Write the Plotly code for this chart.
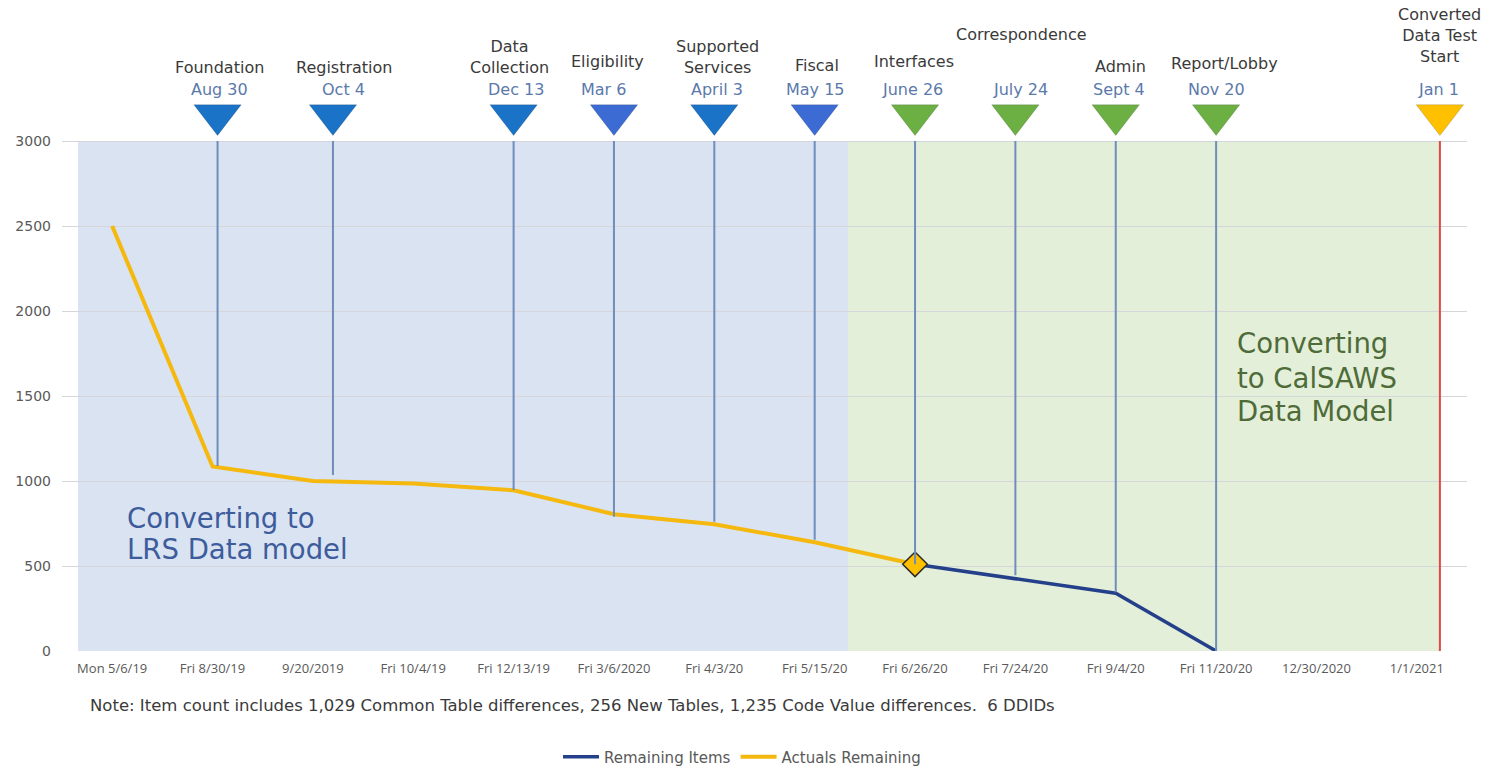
import plotly.graph_objects as go

categories = ["Mon 5/6/19", "Fri 8/30/19", "9/20/2019", "Fri 10/4/19", "Fri 12/13/19",
              "Fri 3/6/2020", "Fri 4/3/20", "Fri 5/15/20", "Fri 6/26/20", "Fri 7/24/20",
              "Fri 9/4/20", "Fri 11/20/20", "12/30/2020", "1/1/2021"]
actuals_remaining = [2500, 1085, 1000, 985, 945, 805, 745, 640, 510,
                     None, None, None, None, None]
remaining_items = [None, None, None, None, None, None, None, None,
                   510, 425, 340, 0, None, None]
y_ticks = [0, 500, 1000, 1500, 2000, 2500, 3000]

milestone_names = ["Foundation", "Registration", "Data<br>Collection", "Eligibility",
                   "Supported<br>Services", "Fiscal", "Interfaces", "Correspondence",
                   "Admin", "Report/Lobby", "Converted<br>Data Test<br>Start"]
milestone_dates = ["Aug 30", "Oct 4", "Dec 13", "Mar 6", "April 3", "May 15",
                   "June 26", "July 24", "Sept 4", "Nov 20", "Jan 1"]
milestone_pos = [1.05, 2.2, 4, 5, 6, 7, 8, 9, 10, 11, 13.23]
milestone_floor = [1088, 1035, 947, 790, 760, 655, 510, 445, 345, 0, 0]
milestone_colors = ["#1a73c6", "#1a73c6", "#1a73c6", "#3d6bd4", "#1a73c6", "#3d6bd4",
                    "#6cb043", "#6cb043", "#6cb043", "#6cb043", "#ffc000"]
name_dx = [2, 11, -4, -6, 3, 2, -1, 6, 5, 8, 0]
name_py = [70, 70, 70, 62, 70, 66, 62, 35, 67, 64, 57]
date_dx = [2, 11, 2, -10, 3, 1, -3, 5, 3, 0, -1]

lrs_lines = ["Converting to", "LRS Data model"]
calsaws_lines = ["Converting", "to CalSAWS", "Data Model"]
note_text = ("Note: Item count includes 1,029 Common Table differences, 256 New Tables, "
             "1,235 Code Value differences.  6 DDIDs")

x_idx = list(range(len(categories)))

# plot geometry in pixels: value 0 sits at row 651, value 3000 at row 141
FIG_W, FIG_H = 1491, 767
LEFT, RIGHT = 62, 1467
TOP_PLOT, BOTTOM = 8, 651
Y3000 = 141
def py_to_y(py):
    return (BOTTOM - py) / (BOTTOM - Y3000) * 3000
def px_to_x(px):
    return (px - LEFT) / (RIGHT - LEFT) * 14 - 0.5
def py_to_paper(py):
    return (BOTTOM - py) / (BOTTOM - TOP_PLOT)

Y_MAX = py_to_y(TOP_PLOT)

fig = go.Figure()

fig.add_trace(go.Scatter(
    x=x_idx, y=remaining_items, mode="lines", name="Remaining Items",
    line=dict(color="#25408a", width=3.5), connectgaps=False, cliponaxis=False))
fig.add_trace(go.Scatter(
    x=x_idx, y=actuals_remaining, mode="lines", name="Actuals Remaining",
    line=dict(color="#f5b80f", width=4), connectgaps=False))
fig.add_trace(go.Scatter(
    x=[x_idx[8]], y=[actuals_remaining[8]], mode="markers", showlegend=False,
    marker=dict(symbol="diamond", size=19, color="#ffc000",
                line=dict(color="#2a2a2a", width=1.5)), hoverinfo="skip"))
fig.add_trace(go.Scatter(
    x=milestone_pos, y=[py_to_y(115)] * len(milestone_pos), mode="markers",
    showlegend=False, hoverinfo="skip",
    marker=dict(symbol="triangle-down", size=41, color=milestone_colors,
                line=dict(color="rgba(0,0,0,0.15)", width=1))))

shapes = []
shapes.append(dict(type="rect", xref="x", yref="y", x0=px_to_x(78), x1=px_to_x(848),
                   y0=0, y1=3000, fillcolor="#dae3f2", line=dict(width=0), layer="below"))
shapes.append(dict(type="rect", xref="x", yref="y", x0=px_to_x(848), x1=milestone_pos[-1],
                   y0=0, y1=3000, fillcolor="#e3efd9", line=dict(width=0), layer="below"))
for i, (p, f) in enumerate(zip(milestone_pos, milestone_floor)):
    last = i == len(milestone_pos) - 1
    shapes.append(dict(type="line", xref="x", yref="y", x0=p, x1=p, y0=f, y1=3000,
                       line=dict(color="#e04848" if last else "#6f8dbd", width=2),
                       layer="above"))

FONT = "DejaVu Sans"
TICKFONT = "Open Sans"
LABEL_SIZE = 16
annotations = []
for i, p in enumerate(milestone_pos):
    bottom_px = min(name_py[i] + 10, 78)
    annotations.append(dict(
        x=p, y=py_to_y(bottom_px), xref="x", yref="y", text=milestone_names[i],
        showarrow=False, xshift=name_dx[i], yanchor="bottom", align="center",
        borderpad=0, font=dict(family=FONT, size=LABEL_SIZE, color="#3a3a3a")))
    annotations.append(dict(
        x=p, y=py_to_y(89), xref="x", yref="y", text=milestone_dates[i],
        showarrow=False, xshift=date_dx[i], yanchor="middle", align="center",
        borderpad=0, font=dict(family=FONT, size=LABEL_SIZE, color="#5b79ab")))

for txt, py in zip(lrs_lines, [518, 549]):
    annotations.append(dict(
        x=px_to_x(126), y=py_to_y(py), xref="x", yref="y", xanchor="left", yanchor="middle",
        text=txt, showarrow=False, borderpad=0,
        font=dict(family=FONT, size=27.5, color="#3d5c9c")))
for txt, py in zip(calsaws_lines, [343, 378, 411]):
    annotations.append(dict(
        x=px_to_x(1236), y=py_to_y(py), xref="x", yref="y", xanchor="left", yanchor="middle",
        text=txt, showarrow=False, borderpad=0,
        font=dict(family=FONT, size=27.5, color="#4e6b38")))
annotations.append(dict(
    x=(572 - LEFT) / (RIGHT - LEFT), y=py_to_paper(705), xref="paper", yref="paper",
    showarrow=False, xanchor="center", yanchor="middle", text=note_text,
    font=dict(family=FONT, size=16.5, color="#3a3a3a")))

fig.update_layout(
    width=FIG_W, height=FIG_H,
    margin=dict(l=LEFT, r=FIG_W - RIGHT, t=TOP_PLOT, b=FIG_H - BOTTOM, autoexpand=False),
    paper_bgcolor="white", plot_bgcolor="white",
    shapes=shapes, annotations=annotations,
    showlegend=True,
    legend=dict(orientation="h", x=(742 - LEFT) / (RIGHT - LEFT), xanchor="center",
                y=py_to_paper(757), yanchor="middle",
                font=dict(family=FONT, size=15, color="#595959"),
                itemwidth=36, tracegroupgap=0),
    font=dict(family=FONT),
)

fig.update_xaxes(range=[-0.5, 13.5], tickmode="array", tickvals=x_idx, ticktext=categories,
                 showgrid=False, zeroline=False, showline=False, ticks="",
                 ticklabelstandoff=8,
                 tickfont=dict(family=TICKFONT, size=13, color="#595959"))
fig.update_yaxes(range=[0, Y_MAX], tickmode="array", tickvals=y_ticks,
                 showgrid=True, gridcolor="#d4d6da",
                 gridwidth=1, zeroline=False, showline=False, ticks="",
                 ticklabelstandoff=10,
                 tickfont=dict(family=FONT, size=14, color="#595959"))

fig.write_html("out.html")
